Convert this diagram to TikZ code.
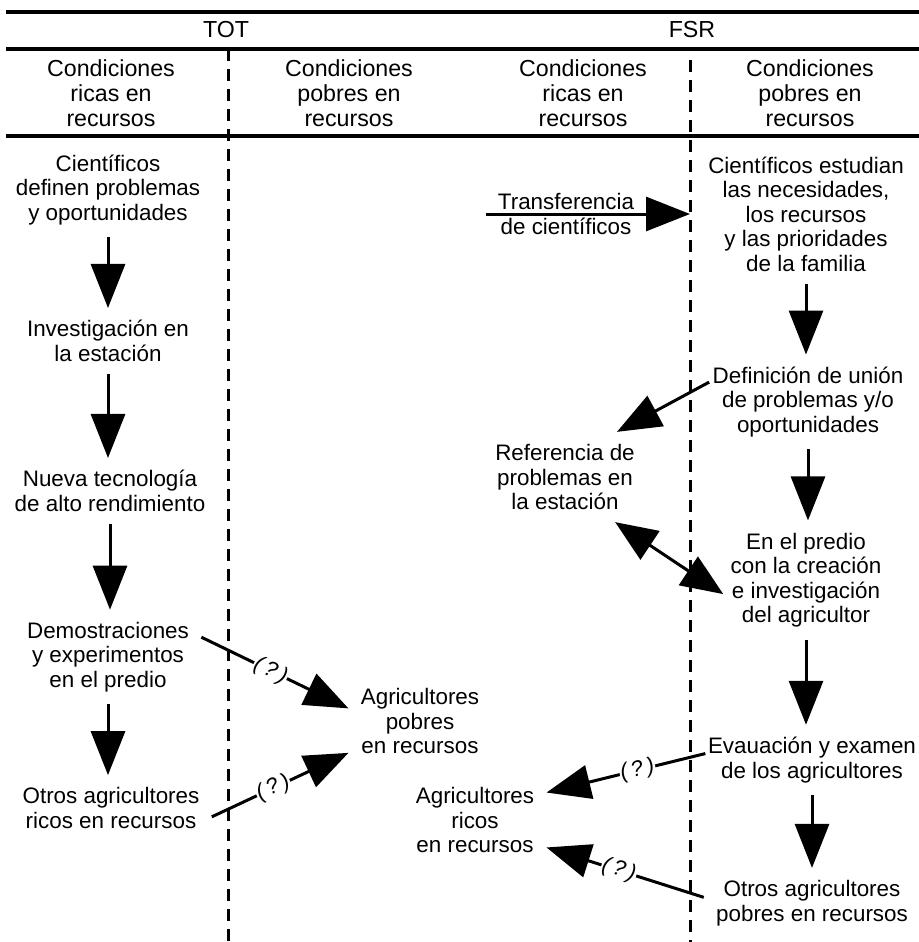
\documentclass[tikz,border=0pt]{standalone}
\usepackage{fontspec}
\setmainfont{Liberation Sans}
\usetikzlibrary{arrows.meta}

\begin{document}
\begin{tikzpicture}[x=0.5pt,y=-0.5pt]
\tikzstyle{every node}+=[align=center,inner sep=6pt,font=\fontsize{11.2}{12.25}\selectfont]
\tikzstyle{cab}=[inner sep=0pt,font=\fontsize{11.6}{12.5}\selectfont]
\tikzstyle{regla}=[line width=2pt]
\tikzstyle{guion}=[line width=1.5pt,dash pattern=on 6pt off 4pt]
\tikzstyle{flecha}=[line width=1.5pt,-{Triangle[length=22pt,width=17pt]}]
\tikzstyle{doble}=[line width=1.5pt,{Triangle[length=21pt,width=17pt]}-{Triangle[length=21pt,width=17pt]}]
\tikzstyle{duda}=[sloped,fill=white,inner sep=0.5pt,font=\fontsize{11}{12}\selectfont\itshape]
\useasboundingbox (0,0) rectangle (919,942);
% table head
\draw[regla] (6,12) -- (919,12);
\draw[regla] (6,49) -- (919,49);
\draw[regla] (6,136) -- (919,136);
\coordinate (lineaL) at (228,49);
\coordinate (lineaR) at (690,60);
\draw[guion] (lineaL) -- (228,942);
\draw[guion] (lineaR) -- (690,942);
\node[cab] (tot) at (226,30) {TOT};
\node[cab] (fsr) at (692,30) {FSR};
\node[cab] (ricasA) at (111,93) {Condiciones\\ricas en\\recursos};
\node[cab] (pobresA) at (349,93) {Condiciones\\pobres en\\recursos};
\node[cab] (ricasB) at (583,93) {Condiciones\\ricas en\\recursos};
\node[cab] (pobresB) at (810,93) {Condiciones\\pobres en\\recursos};
% TOT
\node (cient) at (108,190) {Científicos\\definen problemas\\y oportunidades};
\node (invest) at (108,341) {Investigación en\\la estación};
\node (nueva) at (110,491) {Nueva tecnología\\de alto rendimiento};
\node (demo) at (108,657) {Demostraciones\\y experimentos\\en el predio};
\node (otrosR) at (111,808) {Otros agricultores\\ricos en recursos};
\node (agriP) at (420,721) {Agricultores\\pobres\\en recursos};
\draw[flecha] (cient.south) -- (cient.south |- invest.north);
\draw[flecha] (invest.south) -- (invest.south |- nueva.north);
\draw[flecha] (nueva.south) -- (nueva.south |- demo.north);
\draw[flecha] (demo.south) -- (demo.south |- otrosR.north);
\draw[flecha] (demo.12) -- node[duda,pos=0.47] {(\,?\,)} (agriP.170);
\draw[flecha] (otrosR.-5) -- node[duda,pos=0.45] {(\,?\,)} (agriP.-156);
% FSR
\node (estud) at (806,214) {Científicos estudian\\las necesidades,\\los recursos\\y las prioridades\\de la familia};
\node (transf) at (566,214) {Transferencia\\de científicos};
\node (defin) at (808,402) {Definición de unión\\de problemas y/o\\oportunidades};
\node (refer) at (565,477) {Referencia de\\problemas en\\la estación};
\node (predio) at (806,580) {En el predio\\con la creación\\e investigación\\del agricultor};
\node (evalu) at (812,760) {Evauación y examen\\de los agricultores};
\node (otrosP) at (812,903) {Otros agricultores\\pobres en recursos};
\node (agriR) at (475,820) {Agricultores\\ricos\\en recursos};
\draw[flecha] (transf.west) -- (transf.west -| lineaR);
\draw[flecha] (estud.south) -- (estud.south |- defin.north);
\draw[flecha] (defin.south) -- (defin.south |- predio.north);
\draw[flecha] (predio.south) -- (predio.south |- evalu.north);
\draw[flecha] (evalu.south) -- (evalu.south |- otrosP.north);
\draw[flecha,shorten <=-5pt] (defin.172) -- (refer.41);
\draw[doble,shorten >=-3pt] (refer.-42) -- (predio.187);
\draw[flecha,shorten <=-5pt] (evalu.178) -- node[duda,pos=0.39] {(\,?\,)} (agriR.21);
\draw[flecha] (otrosP.177) -- node[duda,pos=0.54] {(\,?\,)} (agriR.-21);
\end{tikzpicture}
\end{document}
